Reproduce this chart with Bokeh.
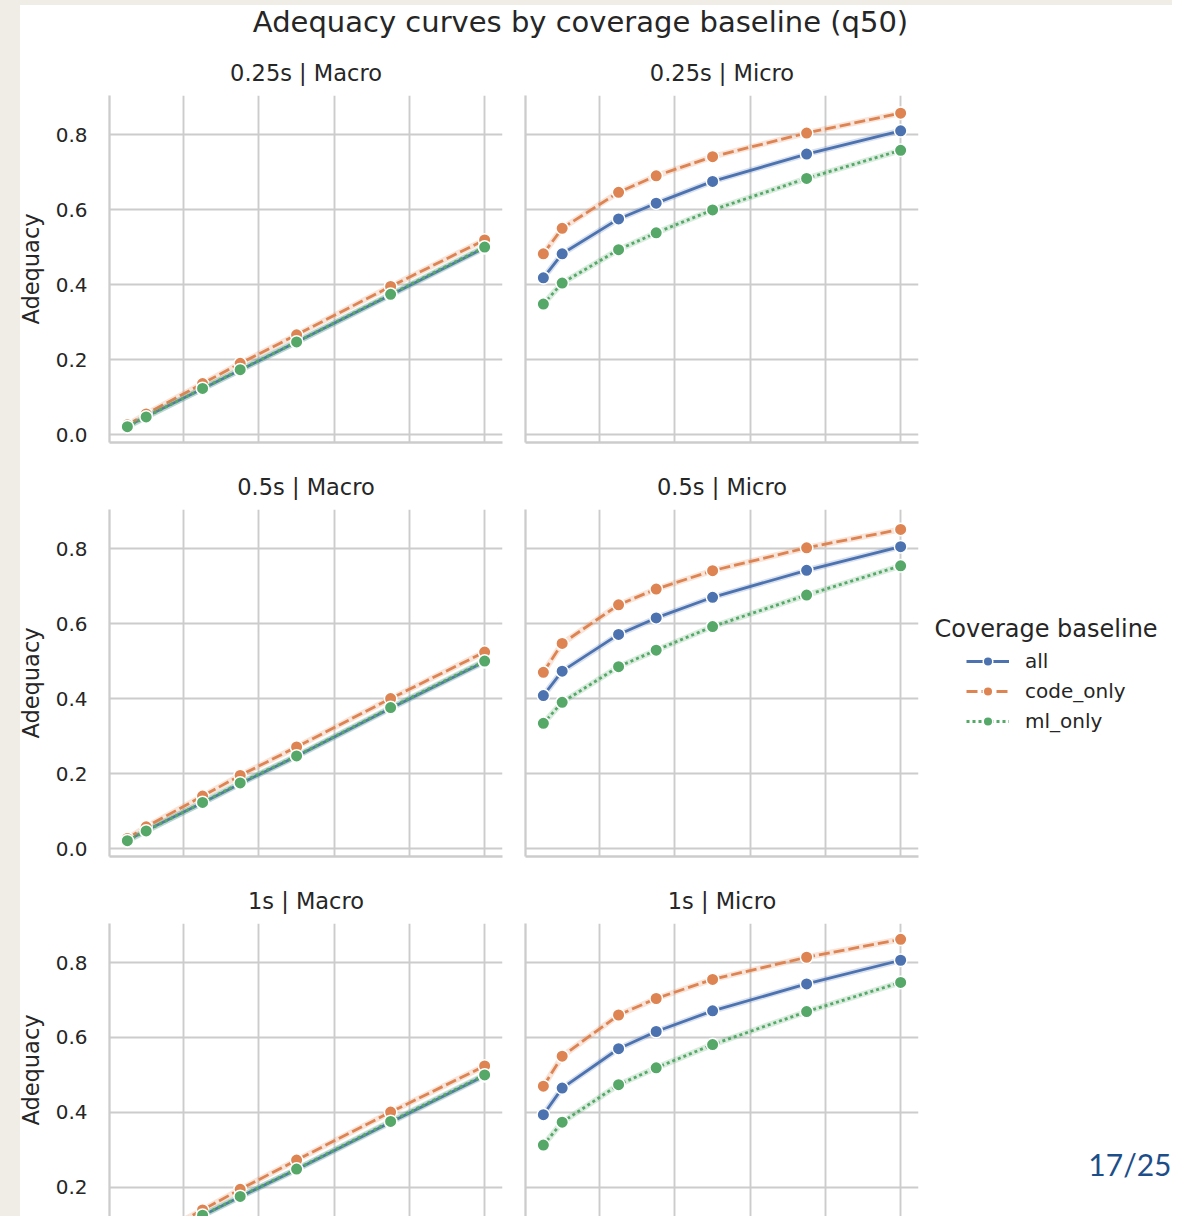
from bokeh.plotting import figure
from bokeh.models import (Range1d, FixedTicker, Grid, LinearAxis, Legend, LegendItem,
                          Label, ColumnDataSource)
from bokeh.layouts import row, column
from bokeh.embed import file_html
from bokeh.resources import INLINE

# ---------------- data ----------------
coverage_frac = [0.05, 0.1, 0.25, 0.35, 0.5, 0.75, 1.0]
latencies = ["0.25s", "0.5s", "1s"]
scopes = ["Macro", "Micro"]
baselines = ["all", "code_only", "ml_only"]

macro_025_all = [0.022, 0.048, 0.122, 0.172, 0.247, 0.372, 0.498]
macro_025_code = [0.026, 0.055, 0.136, 0.190, 0.266, 0.395, 0.519]
macro_025_ml = [0.021, 0.047, 0.123, 0.173, 0.247, 0.374, 0.500]

macro_05_all = [0.022, 0.048, 0.122, 0.173, 0.246, 0.374, 0.498]
macro_05_code = [0.027, 0.058, 0.140, 0.195, 0.271, 0.400, 0.524]
macro_05_ml = [0.021, 0.047, 0.123, 0.175, 0.247, 0.376, 0.500]

macro_1_all = [0.022, 0.048, 0.125, 0.175, 0.248, 0.374, 0.498]
macro_1_code = [0.028, 0.060, 0.140, 0.195, 0.273, 0.401, 0.524]
macro_1_ml = [0.021, 0.047, 0.126, 0.176, 0.249, 0.376, 0.500]

micro_025_all = [0.418, 0.482, 0.575, 0.617, 0.675, 0.748, 0.810]
micro_025_code = [0.482, 0.550, 0.646, 0.690, 0.741, 0.804, 0.857]
micro_025_ml = [0.348, 0.404, 0.493, 0.538, 0.599, 0.683, 0.758]

micro_05_all = [0.408, 0.473, 0.571, 0.615, 0.670, 0.742, 0.805]
micro_05_code = [0.470, 0.547, 0.650, 0.692, 0.741, 0.802, 0.851]
micro_05_ml = [0.334, 0.390, 0.485, 0.529, 0.592, 0.676, 0.754]

micro_1_all = [0.394, 0.465, 0.570, 0.616, 0.671, 0.743, 0.806]
micro_1_code = [0.470, 0.550, 0.660, 0.704, 0.755, 0.814, 0.862]
micro_1_ml = [0.313, 0.374, 0.474, 0.519, 0.581, 0.669, 0.747]

panel_data = {
    ("0.25s", "Macro"): {"all": macro_025_all, "code_only": macro_025_code, "ml_only": macro_025_ml},
    ("0.5s", "Macro"): {"all": macro_05_all, "code_only": macro_05_code, "ml_only": macro_05_ml},
    ("1s", "Macro"): {"all": macro_1_all, "code_only": macro_1_code, "ml_only": macro_1_ml},
    ("0.25s", "Micro"): {"all": micro_025_all, "code_only": micro_025_code, "ml_only": micro_025_ml},
    ("0.5s", "Micro"): {"all": micro_05_all, "code_only": micro_05_code, "ml_only": micro_05_ml},
    ("1s", "Micro"): {"all": micro_1_all, "code_only": micro_1_code, "ml_only": micro_1_ml},
}

x_ticks = [0.0, 0.2, 0.4, 0.6, 0.8, 1.0]
y_ticks = [0.0, 0.2, 0.4, 0.6, 0.8]
y_tick_labels = ["0.0", "0.2", "0.4", "0.6", "0.8"]

suptitle = "Adequacy curves by coverage baseline (q50)"
y_label = "Adequacy"
legend_title = "Coverage baseline"
page_number = "17/25"

# ---------------- style ----------------
FONT = "DejaVu Sans"
TEXT = "#262626"
GRID = "#cccccc"
BEIGE = "#f0ede6"
colors = {"all": "#4c72b0", "code_only": "#dd8452", "ml_only": "#55a868"}
dashes = {"all": "solid", "code_only": "11 4", "ml_only": "3 3"}

# seaborn-like margins
all_vals = [v for d in panel_data.values() for s in d.values() for v in s]
y_lo = min(all_vals) - 0.05 * (max(all_vals) - min(all_vals))
y_hi = max(all_vals) + 0.05 * (max(all_vals) - min(all_vals))
x_lo = min(coverage_frac) - 0.05 * (max(coverage_frac) - min(coverage_frac))
x_hi = max(coverage_frac) + 0.05 * (max(coverage_frac) - min(coverage_frac))

TOP_H = 48
ROW_H = 414
LAST_ROW_H = 340
BORDER_TOP = 46
BORDER_BOTTOM = 20
FRAME_H = ROW_H - BORDER_TOP - BORDER_BOTTOM
LAST_FRAME_H = LAST_ROW_H - BORDER_TOP
y_lo_last = y_hi - (y_hi - y_lo) * LAST_FRAME_H / FRAME_H

SIDE_BG = f"linear-gradient(to right, {BEIGE} 20px, white 20px)"


def add_series(p, series, visible=True, marker_size=12.5):
    rends = {}
    for b in baselines:
        src = ColumnDataSource(dict(x=coverage_frac, y=series[b]))
        halo = p.line("x", "y", source=src, line_color=colors[b], line_width=6, line_alpha=0.22)
        ln = p.line("x", "y", source=src, line_color=colors[b], line_width=2.8,
                    line_dash=dashes[b])
        sc = p.scatter("x", "y", source=src, size=marker_size, fill_color=colors[b],
                       line_color="white", line_width=1.5)
        for r in (halo, ln, sc):
            r.visible = visible
        rends[b] = (ln, sc)
    return rends


def make_panel(lat, scope, ri):
    left = scope == "Macro"
    last = ri == len(latencies) - 1
    p = figure(width=513 if left else 415, height=LAST_ROW_H if last else ROW_H,
               x_range=Range1d(x_lo, x_hi),
               y_range=Range1d(y_lo_last if last else y_lo, y_hi),
               x_axis_type=None, y_axis_type=None,
               output_backend="svg", toolbar_location=None,
               min_border_left=109 if left else 12, min_border_right=11 if left else 10,
               min_border_top=BORDER_TOP, min_border_bottom=0 if last else BORDER_BOTTOM,
               outline_line_color=None, background_fill_color="white",
               border_fill_color="white")
    if left:
        p.border_fill_alpha = 0
        p.styles = {"background": SIDE_BG}
    p.title.text = f"{lat} | {scope}"
    p.title.align = "center"
    p.title.text_font = FONT
    p.title.text_font_size = "22.5px"
    p.title.text_font_style = "normal"
    p.title.text_color = TEXT
    p.title.standoff = 19

    p.add_layout(Grid(dimension=0, ticker=FixedTicker(ticks=x_ticks),
                      grid_line_color=GRID, grid_line_width=1.9))
    p.add_layout(Grid(dimension=1, ticker=FixedTicker(ticks=y_ticks),
                      grid_line_color=GRID, grid_line_width=1.9))

    yax = LinearAxis(ticker=FixedTicker(ticks=y_ticks if left else []),
                     axis_line_color=GRID, axis_line_width=2.3,
                     major_tick_line_color=None, minor_tick_line_color=None,
                     major_tick_out=0, major_tick_in=0, minor_tick_out=0, minor_tick_in=0,
                     major_label_standoff=22,
                     major_label_text_font=FONT, major_label_text_font_size="20px",
                     major_label_text_color=TEXT)
    if left:
        yax.major_label_overrides = dict(zip(y_ticks, y_tick_labels))
        yax.axis_label = y_label
        yax.axis_label_text_font = FONT
        yax.axis_label_text_font_size = "22.5px"
        yax.axis_label_text_font_style = "normal"
        yax.axis_label_text_color = TEXT
        yax.axis_label_standoff = 9
    p.add_layout(yax, "left")

    if not last:
        xax = LinearAxis(ticker=FixedTicker(ticks=[]), axis_line_color=GRID,
                         axis_line_width=2.3, major_tick_line_color=None,
                         minor_tick_line_color=None, major_tick_out=0, major_tick_in=0,
                         minor_tick_out=0, minor_tick_in=0)
        p.add_layout(xax, "below")

    add_series(p, panel_data[(lat, scope)])
    return p


cols = []
for scope in scopes:
    cols.append(column([make_panel(lat, scope, ri) for ri, lat in enumerate(latencies)], spacing=0))

GRID_H = 2 * ROW_H + LAST_ROW_H  # 1168

# legend column (also carries the slide page number)
leg = figure(width=244, height=GRID_H, x_range=Range1d(x_lo, x_hi), y_range=Range1d(y_lo, y_hi),
             x_axis_type=None, y_axis_type=None, output_backend="svg", toolbar_location=None,
             min_border=0, outline_line_color=None, border_fill_color="white",
             background_fill_color="white")
dummy = add_series(leg, panel_data[("0.5s", "Micro")], visible=False, marker_size=14.5)
legend = Legend(items=[LegendItem(label=b, renderers=list(dummy[b])) for b in baselines],
                location=(38, 483), orientation="vertical", border_line_color=None,
                background_fill_alpha=0, label_text_font=FONT, label_text_font_size="20px",
                label_text_color=TEXT, glyph_width=43, glyph_height=24, label_height=24,
                spacing=6, padding=10, margin=0, label_standoff=16)
leg.add_layout(legend)
leg.add_layout(Label(x=6, y=588, x_units="screen", y_units="screen", text=legend_title,
                     text_font=FONT, text_font_size="24px", text_color=TEXT,
                     text_align="left", text_baseline="middle"))
leg.add_layout(Label(x=243, y=53, x_units="screen", y_units="screen", text=page_number,
                     text_font="Lato", text_font_size="30px", text_color="#1d4e89",
                     text_align="right", text_baseline="middle"))

# suptitle strip (slide background: beige top and left edges)
top = figure(width=1172, height=TOP_H, x_range=Range1d(0, 1), y_range=Range1d(0, 1),
             x_axis_type=None, y_axis_type=None, output_backend="svg", toolbar_location=None,
             min_border=0, outline_line_color=None, border_fill_alpha=0,
             background_fill_alpha=0)
top.styles = {"background": f"linear-gradient(to bottom, {BEIGE} 5px, rgba(255,255,255,0) 5px), {SIDE_BG}"}
top.add_layout(Label(x=580, y=TOP_H - 21, x_units="screen", y_units="screen", text=suptitle,
                     text_font=FONT, text_font_size="29px", text_color=TEXT,
                     text_align="center", text_baseline="middle"))

layout = column([top, row([cols[0], cols[1], leg], spacing=0)], spacing=0)

open("out.html", "w").write(file_html(layout, INLINE))
